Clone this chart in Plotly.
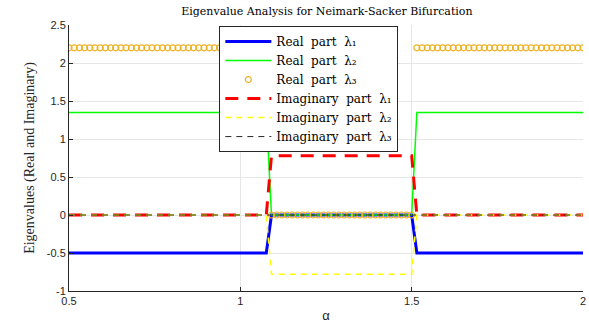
import numpy as np
import plotly.graph_objects as go

# alpha sampling (100 points from 0.5 to 2)
alpha = np.linspace(0.5, 2.0, 100)
# index range of the bifurcation window (inclusive start, exclusive end)
win_start, win_end = 39, 67

# plateau levels: (outside window, inside window)
real1_levels = (-0.5, 0.0)
real2_levels = (1.35, 0.0)
real3_levels = (2.2, 0.0)
imag1_levels = (0.0, 0.78)
imag2_levels = (0.0, -0.78)
imag3_levels = (0.0, 0.0)


def series(levels):
    out, inn = levels
    v = np.full(alpha.shape, out, dtype=float)
    v[win_start:win_end] = inn
    return v


real1 = series(real1_levels)
real2 = series(real2_levels)
real3 = series(real3_levels)
imag1 = series(imag1_levels)
imag2 = series(imag2_levels)
imag3 = series(imag3_levels)

S = "\u00a0\u00a0"
names = ["Real" + S + "part" + S + "λ₁", "Real" + S + "part" + S + "λ₂", "Real" + S + "part" + S + "λ₃",
         "Imaginary" + S + "part" + S + "λ₁", "Imaginary" + S + "part" + S + "λ₂",
         "Imaginary" + S + "part" + S + "λ₃"]

fig = go.Figure()
fig.add_trace(go.Scatter(x=alpha, y=real1, mode="lines", name=names[0],
                         line=dict(color="#0000FF", width=3)))
fig.add_trace(go.Scatter(x=alpha, y=real2, mode="lines", name=names[1],
                         line=dict(color="#00FF00", width=1.5)))
fig.add_trace(go.Scatter(x=alpha, y=real3, mode="markers", name=names[2],
                         marker=dict(symbol="circle-open", size=6, color="#EDB120",
                                     line=dict(width=1.2, color="#EDB120"))))
fig.add_trace(go.Scatter(x=alpha, y=imag1, mode="lines", name=names[3],
                         line=dict(color="#FF0000", width=3, dash="13px,9px")))
fig.add_trace(go.Scatter(x=alpha, y=imag2, mode="lines", name=names[4],
                         line=dict(color="#FFFF00", width=1.5, dash="6px,5px")))
fig.add_trace(go.Scatter(x=alpha, y=imag3, mode="lines", name=names[5],
                         line=dict(color="#262626", width=1, dash="6px,5px")))

axis_common = dict(showgrid=True, gridcolor="#e6e6e6", gridwidth=1, zeroline=False,
                   showline=True, linecolor="#262626", linewidth=1,
                   ticks="inside", ticklen=4, tickcolor="#262626",
                   ticklabeloverflow="allow",
                   tickfont=dict(family="Liberation Sans, Arial", size=11, color="#262626"))

fig.update_layout(
    width=589, height=327,
    margin=dict(l=69, r=3, t=25, b=36),
    plot_bgcolor="white", paper_bgcolor="white",
    title=dict(text="Eigenvalue Analysis for Neimark-Sacker Bifurcation",
               x=0.555, xanchor="center", y=0.965, yanchor="middle",
               font=dict(family="DejaVu Serif", size=11, color="#000000")),
    xaxis=dict(range=[0.5, 2.0], tickvals=[0.5, 1, 1.5, 2], ticktext=["0.5", "1", "1.5", "2"],
               title=dict(text="α", font=dict(family="Liberation Sans, Arial", size=13, color="#262626"),
                          standoff=4),
               **axis_common),
    yaxis=dict(range=[-1, 2.5], tickvals=[-1, -0.5, 0, 0.5, 1, 1.5, 2, 2.5],
               ticktext=["-1", "-0.5", "0", "0.5", "1", "1.5", "2", "2.5"],
               title=dict(text="Eigenvalues (Real and Imaginary)",
                          font=dict(family="Liberation Serif, Times New Roman", size=14, color="#262626"),
                          standoff=8),
               **axis_common),
    legend=dict(x=0.2925, y=0.996, xanchor="left", yanchor="top",
                bgcolor="white", bordercolor="#262626", borderwidth=1,
                font=dict(family="DejaVu Serif", size=12, color="#000000"),
                tracegroupgap=0, itemwidth=46),
    showlegend=True,
)

fig.write_html("out.html")
